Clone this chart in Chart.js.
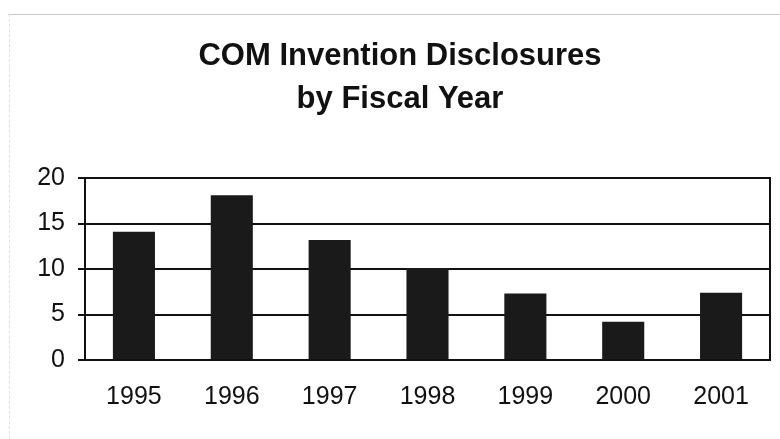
<!DOCTYPE html>
<html>
<head>
<meta charset="utf-8">
<script src="https://cdn.jsdelivr.net/npm/chart.js@4"></script>
<style>
  html, body { margin: 0; padding: 0; background: #fff; }
  #wrap { position: relative; width: 780px; height: 439px; }
  #frameTop { position: absolute; left: 8px; top: 14px; width: 772px; height: 0; border-top: 1px solid #c8c8c8; }
  #frameLeft { position: absolute; left: 9px; top: 14px; width: 0; height: 425px; border-left: 1px dashed #e0e0e0; }
</style>
</head>
<body>
<div id="wrap">
  <canvas id="c" width="780" height="439"></canvas>
  <div id="frameTop"></div>
  <div id="frameLeft"></div>
</div>
<script>
const titleLines = ["COM Invention Disclosures", "by Fiscal Year"];
const categories = ["1995", "1996", "1997", "1998", "1999", "2000", "2001"];
const disclosures = [14.1, 18.1, 13.2, 10.1, 7.3, 4.2, 7.4];
const yTicks = [0, 5, 10, 15, 20];

const frame = {
  id: 'frame',
  afterDatasetsDraw(chart) {
    const a = chart.chartArea, ctx = chart.ctx;
    ctx.save();
    ctx.strokeStyle = '#111';
    ctx.lineWidth = 2;
    ctx.strokeRect(a.left, a.top, a.right - a.left, a.bottom - a.top);
    ctx.restore();
  }
};

new Chart(document.getElementById('c'), {
  type: 'bar',
  data: {
    labels: categories,
    datasets: [{
      data: disclosures,
      backgroundColor: '#1a1a1a',
      borderWidth: 0,
      barPercentage: 0.43,
      categoryPercentage: 1.0
    }]
  },
  options: {
    responsive: false,
    animation: false,
    devicePixelRatio: 1,
    layout: { padding: { left: 30, right: 10, top: 0, bottom: 0 } },
    plugins: {
      legend: { display: false },
      tooltip: { enabled: false },
      title: {
        display: true,
        text: titleLines,
        color: '#111',
        font: { family: 'Liberation Sans, Arial, sans-serif', size: 31, weight: 'bold', lineHeight: '43px' },
        padding: { top: 35, bottom: 57 }
      }
    },
    scales: {
      x: {
        grid: { display: false, drawTicks: false },
        border: { display: true, color: '#111', width: 2 },
        ticks: {
          color: '#111',
          padding: 22,
          font: { family: 'Liberation Sans, Arial, sans-serif', size: 25 }
        },
        afterFit(s) { s.height = 79; }
      },
      y: {
        min: 0, max: 20,
        afterBuildTicks(s) { s.ticks = yTicks.map(v => ({ value: v })); },
        grid: { color: '#111', lineWidth: 2, tickLength: 7, drawTicks: true },
        border: { display: true, color: '#111', width: 2 },
        ticks: {
          color: '#111',
          padding: 13,
          font: { family: 'Liberation Sans, Arial, sans-serif', size: 25 }
        },
        afterFit(s) { s.width = 55; }
      }
    }
  },
  plugins: [frame]
});
</script>
</body>
</html>
